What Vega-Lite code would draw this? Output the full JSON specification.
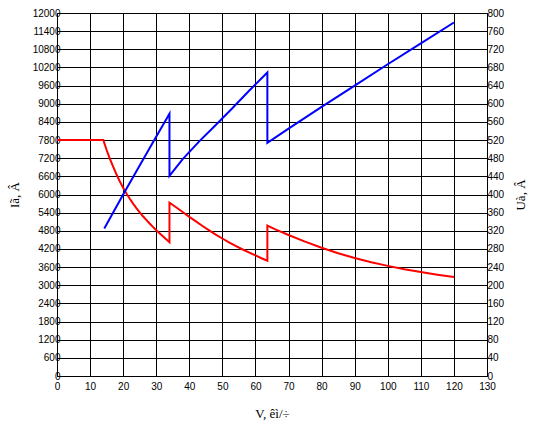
{
  "$schema": "https://vega.github.io/schema/vega-lite/v6.json",
  "autosize": {"type": "none"},
  "padding": {"left": 57, "top": 13, "right": 48, "bottom": 47},
  "width": 430,
  "height": 363,
  "background": "white",
  "config": {
    "view": {"stroke": "black", "strokeWidth": 1},
    "axis": {
      "domainColor": "black",
      "gridColor": "black",
      "gridOpacity": 1,
      "gridWidth": 1,
      "ticks": false,
      "labelColor": "black",
      "labelFont": "Liberation Sans",
      "labelFontSize": 10,
      "titleFont": "Liberation Serif",
      "titleFontSize": 13,
      "titleFontWeight": "normal",
      "titleColor": "black"
    }
  },
  "data": {
    "values": [
      {"i": 1, "s": "Ia", "x": 0, "v": 7800},
      {"i": 2, "s": "Ia", "x": 14, "v": 7800},
      {"i": 3, "s": "Ia", "x": 15, "v": 7470},
      {"i": 4, "s": "Ia", "x": 16, "v": 7180},
      {"i": 5, "s": "Ia", "x": 17, "v": 6910},
      {"i": 6, "s": "Ia", "x": 18, "v": 6660},
      {"i": 7, "s": "Ia", "x": 19, "v": 6430},
      {"i": 8, "s": "Ia", "x": 20, "v": 6220},
      {"i": 9, "s": "Ia", "x": 21, "v": 6030},
      {"i": 10, "s": "Ia", "x": 22, "v": 5860},
      {"i": 11, "s": "Ia", "x": 23, "v": 5700},
      {"i": 12, "s": "Ia", "x": 24, "v": 5550},
      {"i": 13, "s": "Ia", "x": 25, "v": 5410},
      {"i": 14, "s": "Ia", "x": 26, "v": 5280},
      {"i": 15, "s": "Ia", "x": 27, "v": 5160},
      {"i": 16, "s": "Ia", "x": 28, "v": 5040},
      {"i": 17, "s": "Ia", "x": 29, "v": 4930},
      {"i": 18, "s": "Ia", "x": 30, "v": 4820},
      {"i": 19, "s": "Ia", "x": 31, "v": 4720},
      {"i": 20, "s": "Ia", "x": 32, "v": 4620},
      {"i": 21, "s": "Ia", "x": 33, "v": 4520},
      {"i": 22, "s": "Ia", "x": 34, "v": 4420},
      {"i": 23, "s": "Ia", "x": 34, "v": 5730},
      {"i": 24, "s": "Ia", "x": 36, "v": 5580},
      {"i": 25, "s": "Ia", "x": 38, "v": 5420},
      {"i": 26, "s": "Ia", "x": 40, "v": 5260},
      {"i": 27, "s": "Ia", "x": 42, "v": 5110},
      {"i": 28, "s": "Ia", "x": 44, "v": 4960},
      {"i": 29, "s": "Ia", "x": 46, "v": 4815},
      {"i": 30, "s": "Ia", "x": 48, "v": 4675},
      {"i": 31, "s": "Ia", "x": 50, "v": 4545},
      {"i": 32, "s": "Ia", "x": 52, "v": 4420},
      {"i": 33, "s": "Ia", "x": 54, "v": 4300},
      {"i": 34, "s": "Ia", "x": 56, "v": 4190},
      {"i": 35, "s": "Ia", "x": 58, "v": 4085},
      {"i": 36, "s": "Ia", "x": 60, "v": 3985},
      {"i": 37, "s": "Ia", "x": 62, "v": 3885},
      {"i": 38, "s": "Ia", "x": 63.6, "v": 3810},
      {"i": 39, "s": "Ia", "x": 63.6, "v": 4970},
      {"i": 40, "s": "Ia", "x": 66, "v": 4850},
      {"i": 41, "s": "Ia", "x": 70, "v": 4660},
      {"i": 42, "s": "Ia", "x": 75, "v": 4440},
      {"i": 43, "s": "Ia", "x": 80, "v": 4240},
      {"i": 44, "s": "Ia", "x": 85, "v": 4060},
      {"i": 45, "s": "Ia", "x": 90, "v": 3900},
      {"i": 46, "s": "Ia", "x": 95, "v": 3760},
      {"i": 47, "s": "Ia", "x": 100, "v": 3640},
      {"i": 48, "s": "Ia", "x": 105, "v": 3530},
      {"i": 49, "s": "Ia", "x": 110, "v": 3440},
      {"i": 50, "s": "Ia", "x": 115, "v": 3350},
      {"i": 51, "s": "Ia", "x": 120, "v": 3270},
      {"i": 1, "s": "Ua", "x": 14.3, "v": 325},
      {"i": 2, "s": "Ua", "x": 20, "v": 400},
      {"i": 3, "s": "Ua", "x": 25, "v": 464},
      {"i": 4, "s": "Ua", "x": 29.5, "v": 521},
      {"i": 5, "s": "Ua", "x": 34, "v": 578},
      {"i": 6, "s": "Ua", "x": 34, "v": 441},
      {"i": 7, "s": "Ua", "x": 38, "v": 478},
      {"i": 8, "s": "Ua", "x": 43, "v": 517},
      {"i": 9, "s": "Ua", "x": 48, "v": 553},
      {"i": 10, "s": "Ua", "x": 53, "v": 590},
      {"i": 11, "s": "Ua", "x": 58, "v": 628},
      {"i": 12, "s": "Ua", "x": 63.6, "v": 669},
      {"i": 13, "s": "Ua", "x": 63.6, "v": 514},
      {"i": 14, "s": "Ua", "x": 70, "v": 545},
      {"i": 15, "s": "Ua", "x": 80, "v": 593},
      {"i": 16, "s": "Ua", "x": 90, "v": 640},
      {"i": 17, "s": "Ua", "x": 100, "v": 687},
      {"i": 18, "s": "Ua", "x": 110, "v": 733},
      {"i": 19, "s": "Ua", "x": 120, "v": 779}
    ]
  },
  "encoding": {
    "x": {
      "field": "x",
      "type": "quantitative",
      "scale": {"domain": [0, 130], "nice": false, "zero": false},
      "axis": {
        "values": [0, 10, 20, 30, 40, 50, 60, 70, 80, 90, 100, 110, 120, 130],
        "title": "V, êì/÷",
        "labelPadding": 5,
        "labelDx": 2,
        "labelFlush": false,
        "titleY": 37,
        "titleBaseline": "middle",
        "gridWidth": 1
      }
    }
  },
  "layer": [
    {
      "transform": [{"filter": "datum.s === 'Ia'"}],
      "mark": {"type": "line", "color": "#ff0000", "strokeWidth": 2, "interpolate": "linear"},
      "encoding": {
        "order": {"field": "i", "type": "quantitative"},
        "y": {
          "field": "v",
          "type": "quantitative",
          "scale": {"domain": [0, 12000], "nice": false},
          "axis": {
            "orient": "left",
            "values": [0, 600, 1200, 1800, 2400, 3000, 3600, 4200, 4800, 5400, 6000, 6600, 7200, 7800, 8400, 9000, 9600, 10200, 10800, 11400, 12000],
            "format": "d",
            "title": "Iã, Â",
            "labelPadding": -3,
            "labelFlush": false,
            "titleX": -43,
            "titleBaseline": "middle",
            "titleAngle": -90
          }
        }
      }
    },
    {
      "transform": [{"filter": "datum.s === 'Ua'"}],
      "mark": {"type": "line", "color": "#0000ff", "strokeWidth": 2, "interpolate": "linear"},
      "encoding": {
        "order": {"field": "i", "type": "quantitative"},
        "y": {
          "field": "v",
          "type": "quantitative",
          "scale": {"domain": [0, 800], "nice": false},
          "axis": {
            "orient": "right",
            "grid": false,
            "values": [0, 40, 80, 120, 160, 200, 240, 280, 320, 360, 400, 440, 480, 520, 560, 600, 640, 680, 720, 760, 800],
            "format": "d",
            "title": "Uà, Â",
            "labelPadding": 0,
            "labelFlush": false,
            "titleX": 33,
            "titleBaseline": "middle",
            "titleAngle": -90
          }
        }
      }
    }
  ],
  "resolve": {"scale": {"y": "independent"}}
}
